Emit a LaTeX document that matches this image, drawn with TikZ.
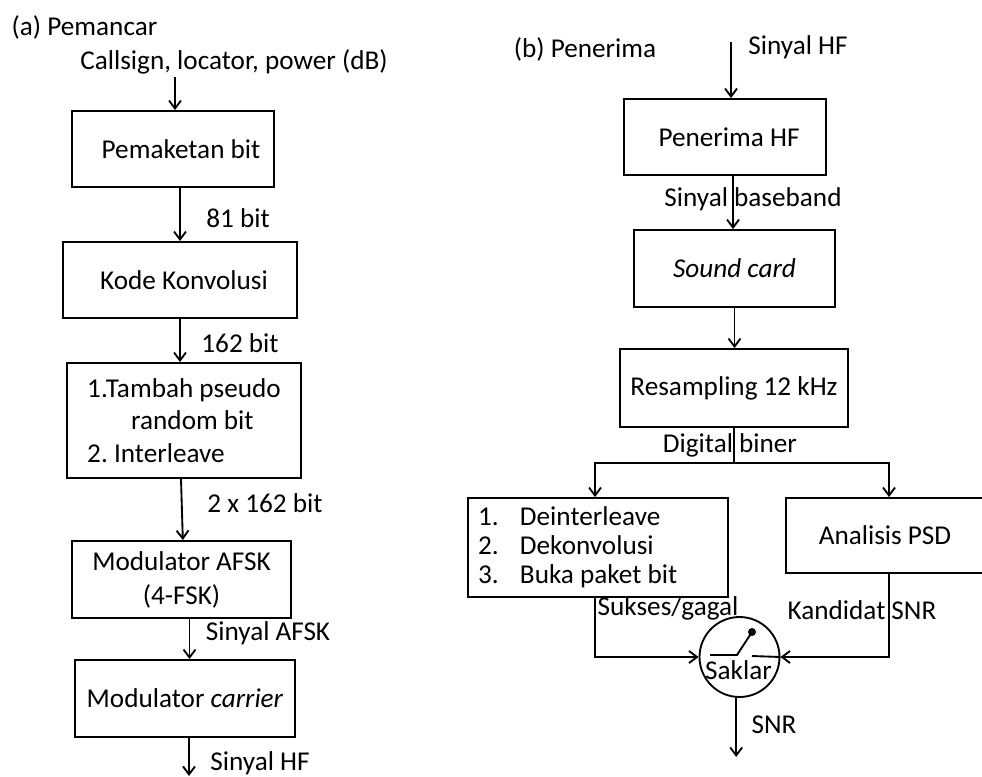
\documentclass[tikz,border=0pt]{standalone}
\usepackage{fontspec}
\setmainfont{Carlito}
\usetikzlibrary{arrows.meta,calc}

\tikzset{every picture/.style={line width=1.4pt}}
\tikzset{
	blok/.style={draw, rectangle, inner sep=0pt, align=center},
	arr/.style={-{Straight Barb[length=6pt,width=9pt]}},
	teks/.style={font=\fontsize{20.4}{26}\selectfont\frenchspacing}
}

\begin{document}
\begin{tikzpicture}[x=0.75pt,y=0.75pt,yscale=-1,xscale=1, every node/.style={teks}]
	\useasboundingbox (0,0) rectangle (982,776);

	%(a) Pemancar
	\node (ttla) at (84.5,27) {(a) Pemancar};
	\node (tin) at (234,62) {Callsign, locator, power (dB)};
	\node[blok, minimum width=151.5pt, minimum height=57pt] (b1) at (173,149) {\hspace*{12pt}Pemaketan bit};
	\node[blok, minimum width=175.5pt, minimum height=57pt] (b2) at (180,280) {\hspace*{6pt}Kode Konvolusi};
	\node[blok, minimum width=175.5pt, minimum height=86.25pt, align=flush left, font=\fontsize{20.4}{24.4}\selectfont\frenchspacing] (b3) at (184,420.5) {1.Tambah pseudo\\\hspace*{33pt}random bit\\2. Interleave};
	\node[blok, minimum width=164.25pt, minimum height=57.75pt, font=\fontsize{20.4}{25.5}\selectfont\frenchspacing] (b4) at (181.5,579.5) {Modulator AFSK\\(4-FSK)};
	\node[blok, minimum width=165pt, minimum height=57.75pt] (b5) at (185,698.5) {Modulator \textit{carrier}};

	% label panah kiri
	\node (l81) at (238,218) {81 bit};
	\node (l162) at (240,343) {162 bit};
	\node (l2x) at (265,503) {2 x 162 bit};
	\node (lafsk) at (268,633) {Sinyal AFSK};
	\node (lhfa) at (260,763) {Sinyal HF};

	\coordinate (cin) at (175,77);
	\draw[arr] (cin) -- (cin |- b1.north);
	\draw[arr] (b1.south -| b2.north) -- (b2.north);
	\draw[arr] (b2.south) -- (b2.south |- b3.north);
	\draw[arr] ([xshift=-2.25pt]b3.south) -- ([xshift=1pt]b4.north);
	\draw[arr] ([xshift=6pt]b4.south) -- ([xshift=6pt]b4.south |- b5.north);
	\draw[arr] ([xshift=3pt]b5.south) -- ++(0,38);

	%(b) Penerima
	\node (ttlb) at (585,49) {(b) Penerima};
	\node (lhfb) at (798,47) {Sinyal HF};
	\node[blok, minimum width=151.5pt, minimum height=57pt] (r1) at (725,137) {\hspace*{6pt}Penerima HF};
	\node[blok, minimum width=150.75pt, minimum height=57.75pt] (r2) at (734.5,268.5) {\textit{Sound card}};
	\node[blok, minimum width=171pt, minimum height=58.5pt] (r3) at (734,388) {Resampling 12 kHz};
	\node[blok, minimum width=195pt, minimum height=74.25pt, text width=180pt, align=flush left, font=\fontsize{20.4}{21.75}\selectfont\frenchspacing] (r4) at (598,547.5) {\makebox[31.5pt][l]{1.}Deinterleave\\\makebox[31.5pt][l]{2.}Dekonvolusi\\\makebox[31.5pt][l]{3.}Buka paket bit};
	\node[blok, minimum width=148.5pt, minimum height=56.25pt] (r5) at (885,535.5) {Analisis PSD};
	\node[draw, circle, minimum size=60pt, inner sep=0pt] (sw) at (739.5,657) {};
	\node (lsk) at (738.5,670) {Saklar};

	% label panah kanan
	\node (lbb) at (753,199) {Sinyal baseband};
	\node (ldb) at (730,445) {Digital biner};
	\node (lsg) at (668,608) {Sukses/gagal};
	\node (lks) at (862,610) {Kandidat SNR};
	\node (lsnr) at (774,725) {SNR};

	\coordinate (hin) at (731,42);
	\coordinate (cab) at (734,463);
	\draw[arr] (hin) -- (hin |- r1.north);
	\draw[arr] ([xshift=6pt]r1.south) -- ([xshift=6pt]r1.south |- r2.north);
	\draw[arr] (r2.south) -- (r2.south |- r3.north);
	\draw (r3.south) -- (cab);
	\draw[arr] (cab) -| ([xshift=-2.25pt]r4.north);
	\draw[arr] (cab) -| ([xshift=3pt]r5.north);
	\draw[arr] ([xshift=-2.25pt]r4.south) |- (sw.west);
	\draw[arr] ([xshift=3pt]r5.south) |- (sw.east);
	\draw[arr] ([xshift=-2.5pt]sw.south) -- ++(0,59);

	% saklar
	\draw ($(sw)+(-29.5,-2)$) -- ($(sw)+(-2.5,-2)$) -- ($(sw)+(12.5,-25)$);
	\fill ($(sw)+(12.5,-25)$) circle (3pt);
	\draw ($(sw)+(12.5,-1)$) -- (sw.east);

\end{tikzpicture}
\end{document}
